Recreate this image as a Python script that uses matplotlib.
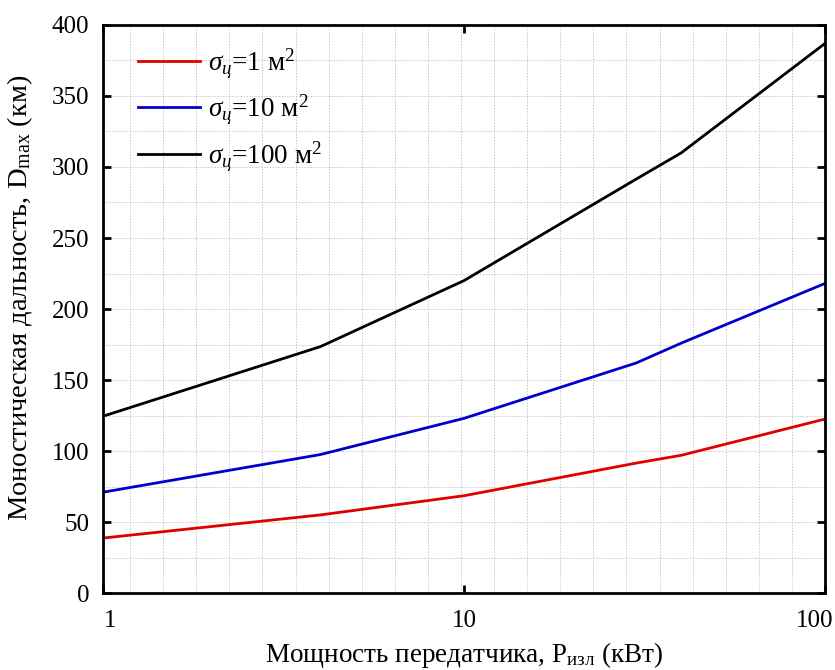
import matplotlib
matplotlib.use("Agg")
import matplotlib.pyplot as plt
from matplotlib.ticker import MultipleLocator, FixedLocator, NullLocator, NullFormatter
from matplotlib.transforms import ScaledTranslation

plt.rcParams['font.family'] = ['Liberation Serif', 'DejaVu Serif']
plt.rcParams['mathtext.fontset'] = 'custom'
plt.rcParams['mathtext.rm'] = 'Liberation Serif'
plt.rcParams['mathtext.it'] = 'Liberation Serif:italic'

power = [1, 4, 10, 30, 40, 100]
d_sigma1 = [38.7, 55, 68.5, 91.5, 97, 122.5]
d_sigma10 = [71, 97.5, 123, 162, 176, 218]
d_sigma100 = [124.5, 173.5, 220, 291.5, 310, 387]
labels = [r'$\sigma_{ц}$=1 м$^2$', r'$\sigma_{ц}$=10 м$^2$', r'$\sigma_{ц}$=100 м$^2$']
colors = ['#e00000', '#0000cc', '#000000']
xticks = [1, 10, 100]
xticklabels = ['1', '10', '100']

fig = plt.figure(figsize=(8.35, 6.7), dpi=100)
ax = fig.add_axes([0.1234, 0.1149, 0.988 - 0.1234, 0.9627 - 0.1149])

gridkw = dict(color='#c8c8c8', linestyle=(0, (1.5, 1.5)), linewidth=0.7)

# uniform vertical grid (as in reference) via hidden twin axis
gx = ax.twiny()
gx.set_xlim(-0.816, 21.0)
gx.xaxis.set_major_locator(MultipleLocator(1))
gx.grid(True, axis='x', **gridkw)
gx.tick_params(top=False, labeltop=False)
gx.set_zorder(0)
for s in gx.spines.values():
    s.set_visible(False)

ax.set_zorder(1)
ax.patch.set_visible(False)

for y, lab, c in zip([d_sigma1, d_sigma10, d_sigma100], labels, colors):
    ax.plot(power, y, color=c, linewidth=2.0, label=lab)

ax.set_xscale('log')
ax.set_xlim(1, 100)
ax.set_ylim(0, 400)
ax.xaxis.set_major_locator(FixedLocator(xticks))
ax.set_xticklabels(xticklabels)
ax.xaxis.set_minor_locator(NullLocator())
ax.xaxis.set_minor_formatter(NullFormatter())
ax.yaxis.set_major_locator(MultipleLocator(50))
ax.yaxis.set_minor_locator(MultipleLocator(25))
ax.grid(True, axis='y', which='both', **gridkw)
ax.tick_params(which='major', direction='in', length=6, width=2, top=True, right=True,
               labelsize=18)
ax.tick_params(axis='x', pad=12)
ax.tick_params(axis='y', pad=10)
ax.tick_params(which='minor', length=0)
for s in ax.spines.values():
    s.set_linewidth(2)

tl = ax.get_xticklabels()
tl[0].set_transform(tl[0].get_transform() + ScaledTranslation(0.07, 0, fig.dpi_scale_trans))
tl[-1].set_transform(tl[-1].get_transform() + ScaledTranslation(-0.10, 0, fig.dpi_scale_trans))

ax.set_xlabel(r'Мощность передатчика, P$_{\mathrm{изл}}$ (кВт)', fontsize=19.5, labelpad=6)
ax.set_ylabel(r'Моностическая дальность, D$_{\mathrm{max}}$ (км)', fontsize=20.5, labelpad=10)
ax.yaxis.set_label_coords(-0.094, 0.52)

leg = ax.legend(loc='upper left', frameon=False, fontsize=19.5, handlelength=2.3,
                handletextpad=0.3, labelspacing=0.45, borderpad=0, borderaxespad=0,
                bbox_to_anchor=(0.048, 0.962))

fig.savefig('out.png', dpi=100)
